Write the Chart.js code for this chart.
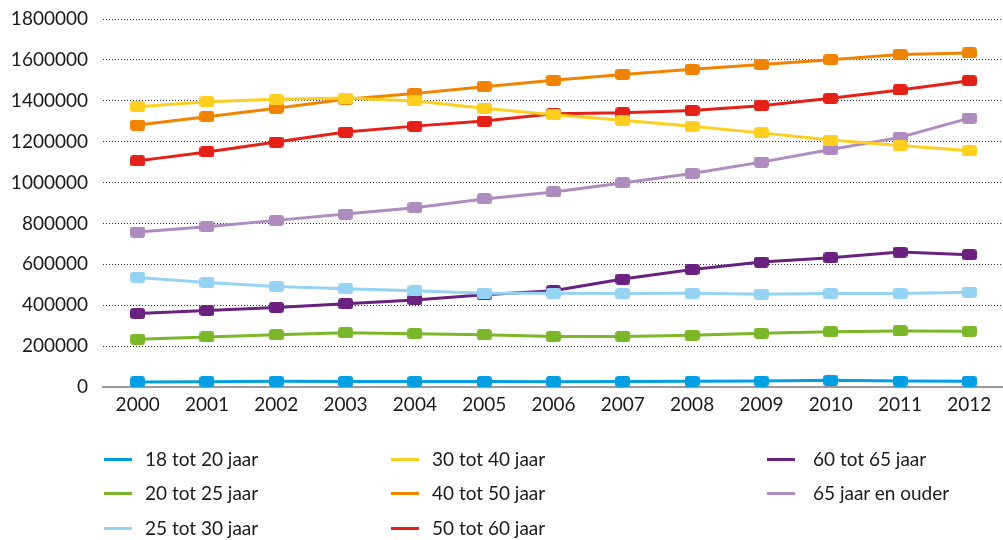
<!DOCTYPE html>
<html>
<head>
<meta charset="utf-8">
<script src="https://cdn.jsdelivr.net/npm/chart.js@4"></script>
<style>
    body { margin: 0; overflow: hidden; background: #fff; font-family: Lato, sans-serif; }
    #wrap { position: relative; width: 1003px; height: 540px; overflow: hidden; }
    #chart { position: absolute; left: 0; top: 0; }
    .leg { position: absolute; font-size: 19px; color: #1a1a1a; white-space: nowrap; line-height: 20px; }
    .leg span.swatch { position: absolute; top: 9px; height: 3px; width: 28px; }
</style>
</head>
<body>
<div id="wrap">
    <canvas id="chart" width="1013" height="540"></canvas>
    <div id="legend"></div>
</div>
<script>
var years = ['2000', '2001', '2002', '2003', '2004', '2005', '2006', '2007', '2008', '2009', '2010', '2011', '2012'];
var yTicks = [0, 200000, 400000, 600000, 800000, 1000000, 1200000, 1400000, 1600000, 1800000];

var seriesNames = ['18 tot 20 jaar', '20 tot 25 jaar', '25 tot 30 jaar', '30 tot 40 jaar',
    '40 tot 50 jaar', '50 tot 60 jaar', '60 tot 65 jaar', '65 jaar en ouder'];
var seriesColors = ['#009fe3', '#7ab829', '#95d3f5', '#ffcf1f', '#f08400', '#e42017', '#6b2180', '#b08bc0'];

var age18to20 = [24500, 26000, 28000, 27000, 27000, 27000, 26000, 27000, 28000, 29000, 33000, 29000, 28000];
var age20to25 = [234000, 245000, 255000, 265000, 261000, 255000, 247000, 247000, 253000, 263000, 270000, 274000, 273000];
var age25to30 = [536000, 511000, 492000, 480000, 471000, 459000, 459000, 457000, 459000, 454000, 457000, 457000, 464000];
var age30to40 = [1371000, 1395000, 1407000, 1413000, 1399000, 1363000, 1332000, 1305000, 1275000, 1243000, 1208000, 1181000, 1155000];
var age40to50 = [1281000, 1322000, 1364000, 1407000, 1436000, 1469000, 1500000, 1529000, 1554000, 1577000, 1601000, 1626000, 1634000];
var age50to60 = [1106000, 1150000, 1198000, 1247000, 1276000, 1301000, 1337000, 1341000, 1353000, 1376000, 1412000, 1453000, 1498000];
var age60to65 = [359000, 374000, 389000, 407000, 426000, 451000, 471000, 528000, 575000, 611000, 632000, 660000, 647000];
var age65plus = [758000, 784000, 815000, 846000, 877000, 920000, 954000, 998000, 1044000, 1100000, 1162000, 1221000, 1315000];

var seriesValues = [age18to20, age20to25, age25to30, age30to40, age40to50, age50to60, age60to65, age65plus];

// legend is filled column by column, 3 columns
var legendCols = [[0, 1, 2], [3, 4, 5], [6, 7]];

function makeMarker(color) {
    var c = document.createElement('canvas');
    c.width = 15;
    c.height = 11;
    var g = c.getContext('2d');
    g.fillStyle = color;
    g.beginPath();
    g.roundRect(0, 0, 15, 11, 3);
    g.fill();
    return c;
}

var datasets = seriesNames.map(function(name, i) {
    return {
        label: name,
        data: seriesValues[i],
        borderColor: seriesColors[i],
        backgroundColor: seriesColors[i],
        borderWidth: 3,
        tension: 0,
        fill: false,
        pointStyle: makeMarker(seriesColors[i]),
        pointRadius: 6
    };
});

var chart = new Chart(document.getElementById('chart'), {
    type: 'line',
    data: { labels: years, datasets: datasets },
    options: {
        responsive: false,
        animation: false,
        devicePixelRatio: 1,
        layout: { padding: { top: 19, bottom: 123, left: 0, right: 0 } },
        plugins: { legend: { display: false }, tooltip: { enabled: false } },
        scales: {
            x: {
                offset: true,
                grid: { display: false, drawTicks: false },
                border: { display: true, color: '#9a9a9a', width: 2 },
                ticks: {
                    color: '#1a1a1a',
                    padding: 6,
                    maxRotation: 0,
                    autoSkip: false,
                    font: { family: 'Lato', size: 19 }
                },
                afterFit: function(axis) { axis.height = 30; }
            },
            y: {
                min: 0,
                max: 1800000,
                afterBuildTicks: function(axis) {
                    axis.ticks = yTicks.map(function(v) { return { value: v }; });
                },
                grid: {
                    drawTicks: false,
                    color: function(ctx) {
                        return ctx.tick && ctx.tick.value === 0 ? 'rgba(0,0,0,0)' : '#333';
                    },
                    lineWidth: 1
                },
                border: { display: false, dash: [1, 2] },
                ticks: {
                    color: '#1a1a1a',
                    padding: 15,
                    font: { family: 'Lato', size: 19 },
                    callback: function(v) { return String(v); }
                },
                afterFit: function(axis) {
                    axis.width = 103;
                    axis.paddingTop = 0;
                    axis.paddingBottom = 0;
                }
            }
        }
    }
});

var colX = [[104, 145], [391, 432], [767, 813]];
var rowY = [449, 483, 518];
var legendEl = document.getElementById('legend');
legendCols.forEach(function(col, ci) {
    col.forEach(function(idx, ri) {
        var sw = document.createElement('span');
        sw.className = 'swatch';
        sw.style.background = seriesColors[idx];
        sw.style.left = '0px';
        var item = document.createElement('div');
        item.className = 'leg';
        item.style.left = colX[ci][0] + 'px';
        item.style.top = rowY[ri] + 'px';
        item.style.paddingLeft = (colX[ci][1] - colX[ci][0]) + 'px';
        item.appendChild(sw);
        item.appendChild(document.createTextNode(seriesNames[idx]));
        legendEl.appendChild(item);
    });
});
</script>
</body>
</html>
